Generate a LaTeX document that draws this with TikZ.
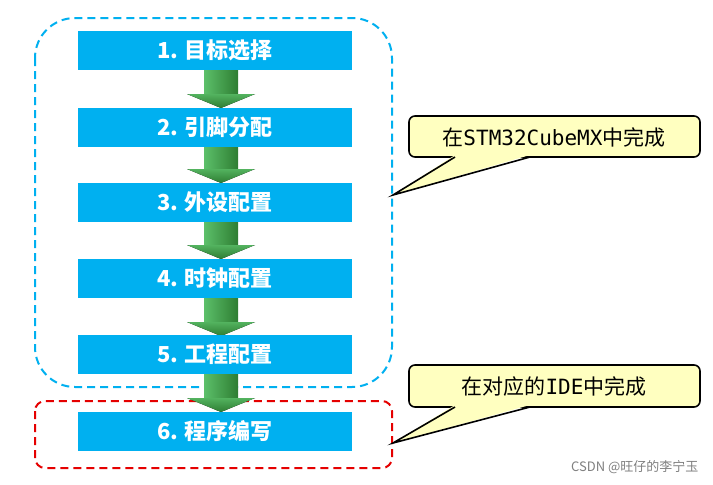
\documentclass[tikz,border=0pt]{standalone}
\usepackage{fontspec}
\setmainfont{Noto Sans CJK SC}
\newfontfamily\cjkb{Noto Sans CJK SC}
\newfontfamily\monob{DejaVu Sans Mono}
\definecolor{stepblue}{HTML}{00B0F0}
\definecolor{callyel}{HTML}{FFFFC0}
\definecolor{gtop}{HTML}{5CC06A}
\definecolor{gbot}{HTML}{2E7D32}
\tikzset{
 stepbox/.style={fill=stepblue,minimum width=274pt,minimum height=39pt,inner sep=0,text=white,font=\cjkb\bfseries\fontsize{22}{22}\selectfont},
 callout/.style={draw=black,line width=1.6pt,fill=callyel,rounded corners=6pt},
 ctext/.style={font=\cjkb\fontsize{21}{21}\selectfont}
}
\begin{document}
\begin{tikzpicture}[x=1pt,y=-1pt]
\useasboundingbox[fill=white] (0,0) rectangle (713,485);
\draw[stepblue,line width=2pt,dash pattern=on 8pt off 5pt,rounded corners=40pt] (35,18) rectangle (392,387);
\draw[red!90!black,line width=2pt,dash pattern=on 8pt off 5pt,rounded corners=10pt] (35,401) rectangle (392,468);
\foreach \a/\b in {70/108,146/183,222/259,298/336,372/412}{
  \fill[left color=gtop,right color=gbot] (204,\a) rectangle (238,\b-13);
  \fill[top color=gtop!80!gbot,bottom color=gbot] (187,\b-14) -- (255,\b-14) -- (221,\b) -- cycle;
}
\node[stepbox] (s1) at (215,50) {1. 目标选择};
\node[stepbox] (s2) at (215,127) {2. 引脚分配};
\node[stepbox] (s3) at (215,202.5) {3. 外设配置};
\node[stepbox] (s4) at (215,278.5) {4. 时钟配置};
\node[stepbox] (s5) at (215,354) {5. 工程配置};
\node[stepbox] (s6) at (215,431.5) {6. 程序编写};
\coordinate (t1) at (393,195);
\coordinate (t2) at (393,443);
\draw[callout] (409,116) rectangle (700,157);
\fill[callyel] (455,155) -- (t1) -- (530,155) -- cycle;
\draw[line width=1.6pt] (455,157) -- (t1) -- (530,157);
\node[ctext] (c1) at (554,137) {在{\monob STM32CubeMX}中完成};
\draw[callout] (409,365) rectangle (700,407);
\fill[callyel] (455,405) -- (t2) -- (530,405) -- cycle;
\draw[line width=1.6pt] (455,407) -- (t2) -- (530,407);
\node[ctext] (c2) at (554,386) {在对应的{\monob IDE}中完成};
\node[text=gray,font=\fontsize{13}{13}\selectfont,anchor=east] (w) at (702,467) {CSDN @旺仔的李宁玉};
\end{tikzpicture}
\end{document}
